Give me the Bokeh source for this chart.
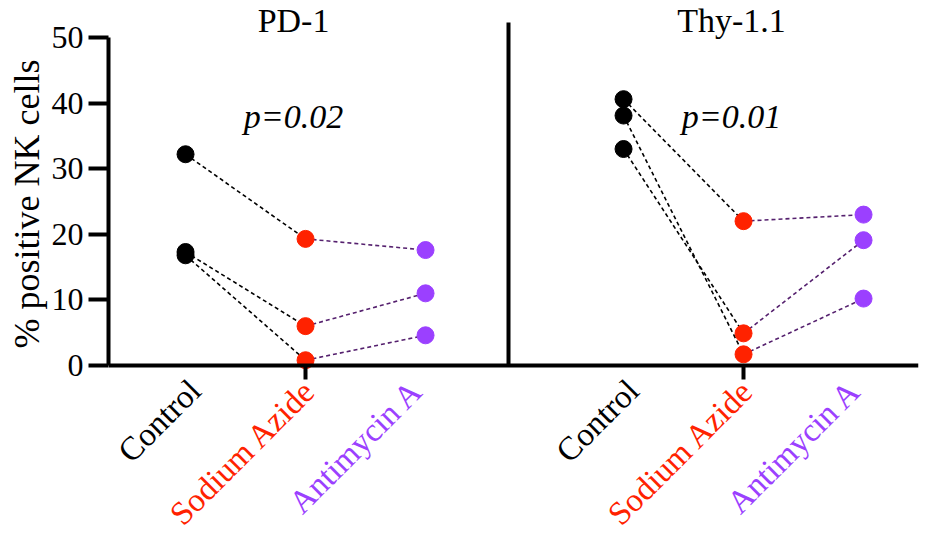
from bokeh.plotting import figure
from bokeh.models import (Range1d, LinearAxis, FixedTicker, ColumnDataSource,
                          Title, CustomJSTickFormatter)
from bokeh.core.properties import value
from bokeh.embed import file_html
from bokeh.resources import INLINE
import math

# ---- data -------------------------------------------------------------
categories = ["Control", "Sodium Azide", "Antimycin A"]
panels = ["PD-1", "Thy-1.1"]
p_values = ["p=0.02", "p=0.01"]
y_ticks = [0, 10, 20, 30, 40, 50]
y_label = "% positive NK cells"

# % positive NK cells, one entry per paired replicate
pd1_control = [32.2, 17.3, 16.8]
pd1_azide = [19.3, 6.0, 0.8]
pd1_antimycin = [17.6, 11.0, 4.6]

thy_control = [40.6, 38.1, 33.0]
thy_azide = [22.0, 1.7, 4.9]
thy_antimycin = [23.0, 10.2, 19.1]

# ---- styling / layout -------------------------------------------------
FONT_NAME = "Liberation Serif"
FONT = value(FONT_NAME)
cat_colors = ["#000000", "#ff2200", "#9b40ff"]
pair_line_colors = ["#000000", "#55206e"]   # control->azide, azide->antimycin
panel_offset = 3.65                         # x distance between the two panels
divider_x = 2.69
label_shift = [0.08, 0.035, -0.07]          # nudges for the slanted labels

def cat_x(panel_idx, cat_idx):
    return panel_idx * panel_offset + cat_idx

p = figure(width=930, height=536,
           x_range=Range1d(-0.642, 6.108), y_range=Range1d(-26.07, 55.64),
           output_backend="svg", toolbar_location=None,
           x_axis_location=None, y_axis_location=None,
           min_border_left=108, min_border_right=12,
           min_border_top=0, min_border_bottom=0)
p.outline_line_color = None
p.xgrid.visible = False
p.ygrid.visible = False
p.background_fill_color = "white"
p.border_fill_color = "white"

# y axis (0..50)
yax = LinearAxis(ticker=FixedTicker(ticks=y_ticks), bounds=(0, 50))
yax.axis_line_width = 4
yax.axis_line_color = "black"
yax.major_tick_line_width = 4
yax.major_tick_line_color = "black"
yax.major_tick_out = 20
yax.major_tick_in = 0
yax.minor_tick_out = 0
yax.minor_tick_in = 0
yax.major_label_text_font = FONT_NAME
yax.major_label_text_font_size = "32px"
yax.major_label_text_color = "black"
yax.major_label_standoff = 5
p.add_layout(yax, "left")

# y axis title, placed so that it sits beside the 0..50 span of the axis
p.add_layout(Title(text=y_label, align="left", offset=188,
                   text_font=FONT_NAME, text_font_size="36px",
                   text_font_style="normal", text_color="black",
                   standoff=4), "left")

# vertical divider between the panels
div = LinearAxis(ticker=FixedTicker(ticks=[]), fixed_location=divider_x,
                 bounds=(0, 52.3))
div.axis_line_width = 4
div.axis_line_color = "black"
div.major_tick_out = 0
div.major_tick_in = 0
div.minor_tick_out = 0
div.minor_tick_in = 0
div.formatter = CustomJSTickFormatter(code="return ''")
p.add_layout(div, "left")

# x axis along y = 0, tick under the middle treatment of each panel
xax = LinearAxis(ticker=FixedTicker(ticks=[cat_x(0, 1), cat_x(1, 1)]),
                 fixed_location=0)
xax.axis_line_width = 4
xax.axis_line_color = "black"
xax.major_tick_line_width = 4
xax.major_tick_line_color = "black"
xax.major_tick_out = 14
xax.major_tick_in = 0
xax.minor_tick_out = 0
xax.minor_tick_in = 0
xax.formatter = CustomJSTickFormatter(code="return ''")
p.add_layout(xax, "below")

panel_data = [
    (pd1_control, pd1_azide, pd1_antimycin),
    (thy_control, thy_azide, thy_antimycin),
]

for pi, series in enumerate(panel_data):
    # paired dashed lines
    for si in range(2):
        a, b = series[si], series[si + 1]
        src = ColumnDataSource(dict(
            x0=[cat_x(pi, si)] * len(a), y0=a,
            x1=[cat_x(pi, si + 1)] * len(b), y1=b))
        p.segment("x0", "y0", "x1", "y1", source=src,
                  line_color=pair_line_colors[si], line_width=1.6,
                  line_dash="4 3")
    # points
    for ci, vals in enumerate(series):
        p.scatter([cat_x(pi, ci)] * len(vals), vals, size=17,
                  fill_color=cat_colors[ci], line_color=cat_colors[ci])

    # panel title and p-value
    p.text([cat_x(pi, 1) - 0.1], [52.6], text=[panels[pi]],
           text_font=FONT, text_font_size="34px", text_color="black",
           text_align="center", text_baseline="middle")
    p.text([cat_x(pi, 1) - 0.1], [38.0], text=[p_values[pi]],
           text_font=FONT, text_font_size="34px", text_font_style="italic",
           text_color="black", text_align="center", text_baseline="middle")

    # slanted treatment labels under the axis
    for ci, name in enumerate(categories):
        p.text([cat_x(pi, ci) + label_shift[ci]], [-3.0], text=[name],
               text_font=FONT, text_font_size="33px",
               text_color=cat_colors[ci], angle=math.pi / 4,
               text_align="right", text_baseline="middle")

open("out.html", "w").write(file_html(p, INLINE))
